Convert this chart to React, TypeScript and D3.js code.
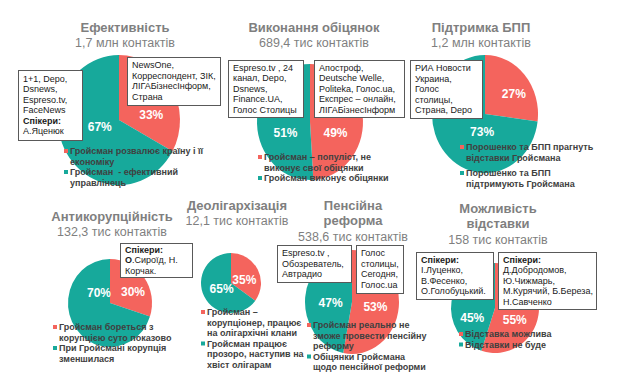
import React from "react";
import * as d3 from "d3";

const W = 625;
const H = 385;
const RED = "#f4645d";
const TEAL = "#17a99b";
const FONT = "'Liberation Sans', Arial, sans-serif";

// data
const titles = [
  ["Ефективність"],
  ["Виконання обіцянок"],
  ["Підтримка БПП"],
  ["Антикорупційність"],
  ["Деолігархізація"],
  ["Пенсійна", "реформа"],
  ["Можливість", "відставки"],
];
const subtitles = [
  "1,7 млн контактів",
  "689,4 тис контактів",
  "1,2 млн контактів",
  "132,3 тис контактів",
  "12,1 тис контактів",
  "538,6 тис контактів",
  "158 тис контактів",
];
// червоний сектор (негатив) і бірюзовий (позитив), %
const negativeShare = [33, 49, 27, 30, 35, 53, 55];
const positiveShare = [67, 51, 73, 70, 65, 47, 45];

const negativeLegend = [
  ["Гройсман розвалює країну і її", "економіку"],
  ["Гройсман – популіст, не", "виконує свої обіцянки"],
  ["Порошенко та БПП прагнуть", "відставки Гройсмана"],
  ["Гройсман бореться з", "корупцією суто показово"],
  ["Гройсман –", "корупціонер, працює", "на олігархічні клани"],
  ["Гройсман реально не", "зможе провести пенсійну", "реформу"],
  ["Відставка можлива"],
];
const positiveLegend = [
  ["Гройсман  - ефективний", "управлінець"],
  ["Гройсман виконує обіцянки"],
  ["Порошенко та БПП", "підтримують Гройсмана"],
  ["При Гройсмані корупція", "зменшилася"],
  ["Гройсман працює", "прозоро, наступив на", "хвіст олігарам"],
  ["Обіцянки Гройсмана", "щодо пенсійної реформи"],
  ["Відставки не буде"],
];

// рядок: звичайний текст або [жирна частина, звичайна частина]
type Line = string | [string, string];
const sourceBoxes: Line[][][] = [
  [
    ["1+1, Depo,", "Dsnews,", "Espreso.tv,", "FaceNews", ["Спікери:", ""], "А.Яценюк"],
    ["NewsOne,", "Корреспондент, ЗІК,", "ЛІГАБізнесІнформ,", "Страна"],
  ],
  [
    ["Espreso.tv , 24", "канал, Depo,", "Dsnews,", "Finance.UA,", "Голос Столицы"],
    ["Апостроф,", "Deutsche Welle,", "Politeka, Голос.ua,", "Експрес – онлайн,", "ЛІГАБізнесІнформ"],
  ],
  [["РИА Новости", "Украина,", "Голос", "столицы,", "Страна, Depo"]],
  [[["Спікери:", ""], ["О", ".Сироїд, Н."], "Корчак."]],
  [],
  [
    ["Espreso.tv ,", "Обозреватель,", "Автрадио"],
    ["Голос", "столицы,", "Сегодня,", "Голос.ua"],
  ],
  [
    [["Спікери:", ""], "І.Луценко,", "В.Фесенко,", "О.Голобуцький."],
    [["Спікери:", ""], "Д.Добродомов,", "Ю.Чижмарь,", "М.Курячий, Б.Береза,", "Н.Савченко"],
  ],
];

// layout
const layout = [
  { cx: 119, cy: 120, rx: 61, ry: 65, tx: 125, ty: 27, lx: 66, ly: 151, gap: 0,
    nudge: [[6, 11], [7, -10]],
    boxes: [{ x: 18, y: 70, w: 64, h: 70 }, { x: 127, y: 57, w: 93, h: 48 }] },
  { cx: 310, cy: 122, rx: 53, ry: 58, tx: 314, ty: 27, lx: 260, ly: 157, gap: 0,
    nudge: [[-1, 12], [2, 10]],
    boxes: [{ x: 228, y: 60, w: 75, h: 57 }, { x: 314, y: 60, w: 90, h: 57 }] },
  { cx: 485, cy: 114, rx: 53, ry: 59, tx: 481, ty: 27, lx: 462, ly: 147, gap: 5,
    nudge: [[9, -1], [17, -2]],
    boxes: [{ x: 410, y: 60, w: 72, h: 58 }] },
  { cx: 110, cy: 303, rx: 42, ry: 44, tx: 112, ty: 216, lx: 55, ly: 327, gap: 0,
    nudge: [[6, 2], [6, -23]],
    boxes: [{ x: 120, y: 243, w: 72, h: 34 }] },
  { cx: 231, cy: 283, rx: 30, ry: 30, tx: 237, ty: 205, lx: 203, ly: 312, gap: 0,
    nudge: [[0, 4], [4, -1]],
    boxes: [] },
  { cx: 352, cy: 302, rx: 47, ry: 52, tx: 353, ty: 205, lx: 309, ly: 325, gap: 0,
    nudge: [[0, 2], [2, 3]],
    boxes: [{ x: 277, y: 245, w: 74, h: 37 }, { x: 356, y: 245, w: 47, h: 48 }] },
  { cx: 495, cy: 308, rx: 44, ry: 45, tx: 498, ty: 208, lx: 461, ly: 334, gap: 0,
    nudge: [[-2, 8], [-1, 13]],
    boxes: [{ x: 416, y: 252, w: 77, h: 47 }, { x: 498, y: 252, w: 98, h: 57 }] },
];

const LH = 10.5;

function BoxText({ lines, box }: { lines: Line[]; box: { x: number; y: number; w: number; h: number } }) {
  const mid = box.y + box.h / 2;
  return (
    <g>
      <rect x={box.x + 0.5} y={box.y + 0.5} width={box.w} height={box.h} fill="#fff" stroke="#595959" strokeWidth={1} />
      {lines.map((ln, j) => {
        const y = mid + (j - (lines.length - 1) / 2) * LH + 3.2;
        return (
          <text key={j} x={box.x + 5} y={y} fontSize={9} fill="#1a1a1a">
            {typeof ln === "string" ? ln : (
              <>
                <tspan fontWeight="bold">{ln[0]}</tspan>
                {ln[1]}
              </>
            )}
          </text>
        );
      })}
    </g>
  );
}

export default function App() {
  const pie = d3.pie<number>().sort(null).value((d) => d);
  const arc = d3.arc<d3.PieArcDatum<number>>().innerRadius(0);
  const colors = [RED, TEAL];

  return (
    <svg width={W} height={H} style={{ position: "absolute", left: 0, top: 0 }} fontFamily={FONT}>
      <rect width={W} height={H} fill="#fff" />

      {/* пироги */}
      {layout.map((L, i) => {
        const slices = pie([negativeShare[i], positiveShare[i]]);
        return (
          <g key={"p" + i} transform={`translate(${L.cx},${L.cy}) scale(1,${L.ry / L.rx})`}>
            {slices.map((s, k) => (
              <path key={k} d={arc.outerRadius(L.rx)(s) || ""} fill={colors[k]} />
            ))}
          </g>
        );
      })}

      {/* підписи % */}
      {layout.map((L, i) => {
        const slices = pie([negativeShare[i], positiveShare[i]]);
        return (
          <g key={"l" + i}>
            {slices.map((s, k) => {
              const [x, y] = arc.outerRadius(L.rx).centroid(s);
              return (
                <text key={k} x={L.cx + x + L.nudge[k][0]} y={L.cy + (y * L.ry) / L.rx + L.nudge[k][1] + 4.3}
                  textAnchor="middle" fontSize={12} fontWeight="bold" fill="#fff">
                  {s.data}%
                </text>
              );
            })}
          </g>
        );
      })}

      {/* джерела */}
      {layout.map((L, i) =>
        sourceBoxes[i].map((lines, b) => <BoxText key={i + "-" + b} lines={lines} box={L.boxes[b]} />)
      )}

      {/* легенди */}
      {layout.map((L, i) => {
        const groups = [negativeLegend[i], positiveLegend[i]];
        let y0 = L.ly;
        return (
          <g key={"g" + i}>
            {groups.map((lines, k) => {
              const start = y0;
              y0 += lines.length * LH + L.gap;
              return (
                <g key={k}>
                  <rect x={L.lx - 2} y={start - 2} width={4} height={4} fill={colors[k]} />
                  {lines.map((t, j) => (
                    <text key={j} x={L.lx + 4} y={start + j * LH + 3.2} fontSize={9} fontWeight="bold" fill="#404040"
                      style={{ whiteSpace: "pre" }}>
                      {t}
                    </text>
                  ))}
                </g>
              );
            })}
          </g>
        );
      })}

      {/* заголовки */}
      {layout.map((L, i) => (
        <g key={"t" + i} fill="#7f7f7f" textAnchor="middle">
          {titles[i].map((t, j) => (
            <text key={j} x={L.tx} y={L.ty + j * 15.5 + 4.6} fontSize={13} fontWeight="bold">
              {t}
            </text>
          ))}
          <text x={L.tx} y={L.ty + titles[i].length * 15.7 + 4.4} fontSize={12.5}>
            {subtitles[i]}
          </text>
        </g>
      ))}
    </svg>
  );
}
